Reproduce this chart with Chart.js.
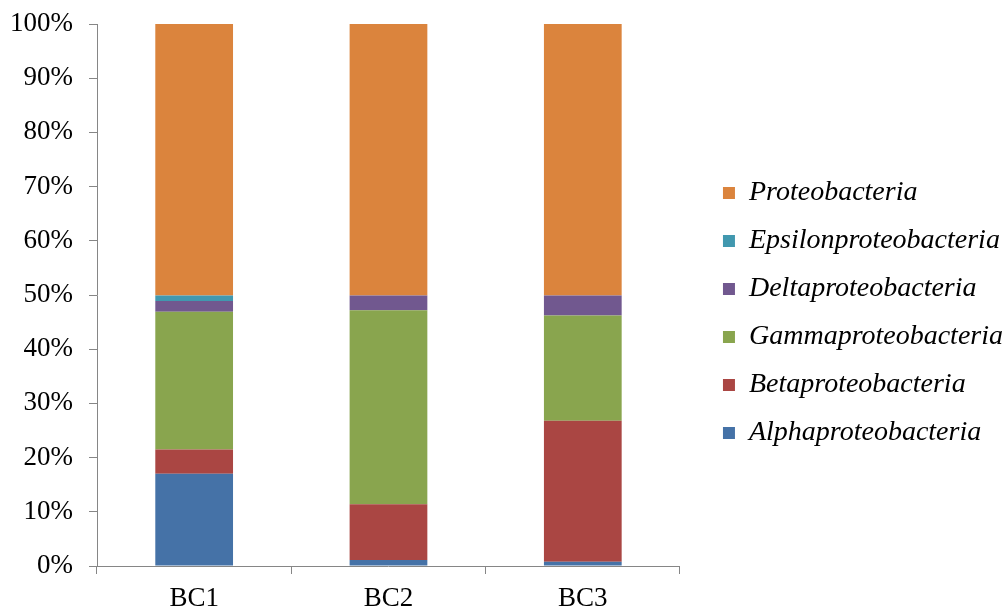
<!DOCTYPE html>
<html>
<head>
<meta charset="utf-8">
<script src="https://cdn.jsdelivr.net/npm/chart.js@4/dist/chart.umd.min.js"></script>
<style>
  html, body { margin: 0; padding: 0; background: #fff; }
  #wrap { width: 1007px; height: 610px; }
</style>
</head>
<body>
<div id="wrap"><canvas id="chart"></canvas></div>
<script>
const samples = ['BC1', 'BC2', 'BC3'];
const alpha = [17.0, 1.1, 0.8];
const beta = [4.5, 10.3, 26.0];
const gamma = [25.4, 35.8, 19.4];
const delta = [2.0, 2.7, 3.7];
const epsilon = [1.0, 0, 0];
const proteo = [50.1, 50.1, 50.1];

const axisGray = '#868686';
const serif = 'Liberation Serif, Times New Roman, serif';

const chart = new Chart(document.getElementById('chart'), {
    type: 'bar',
    data: {
        labels: samples,
        datasets: [
            { label: 'Alphaproteobacteria', data: alpha, backgroundColor: '#4572A7' },
            { label: 'Betaproteobacteria', data: beta, backgroundColor: '#AA4643' },
            { label: 'Gammaproteobacteria', data: gamma, backgroundColor: '#89A54E' },
            { label: 'Deltaproteobacteria', data: delta, backgroundColor: '#71588F' },
            { label: 'Epsilonproteobacteria', data: epsilon, backgroundColor: '#4198AF' },
            { label: 'Proteobacteria', data: proteo, backgroundColor: '#DB843D' }
        ]
    },
    options: {
        responsive: true,
        maintainAspectRatio: false,
        animation: false,
        datasets: {
            bar: {
                categoryPercentage: 1,
                barPercentage: 0.4
            }
        },
        layout: {
            padding: { top: 16, right: -6, bottom: 0, left: 0 }
        },
        plugins: {
            tooltip: { enabled: false },
            legend: {
                position: 'right',
                reverse: true,
                maxWidth: 340,
                labels: {
                    boxWidth: 12,
                    boxHeight: 12,
                    padding: 20,
                    color: '#000',
                    font: { family: serif, size: 28, style: 'italic' }
                }
            }
        },
        scales: {
            x: {
                stacked: true,
                grid: {
                    drawOnChartArea: false,
                    tickLength: 8,
                    color: axisGray
                },
                border: { color: axisGray },
                ticks: {
                    color: '#000',
                    padding: 11,
                    font: { family: serif, size: 27, lineHeight: 1 }
                },
                afterFit: s => { s.height = 44; }
            },
            y: {
                stacked: true,
                min: 0,
                max: 100,
                grid: {
                    drawOnChartArea: false,
                    tickLength: 8,
                    color: axisGray
                },
                border: { color: axisGray },
                ticks: {
                    stepSize: 10,
                    color: '#000',
                    padding: 16,
                    font: { family: serif, size: 27 },
                    callback: v => v + '%'
                },
                afterFit: s => {
                    s.width = 97;
                    s.paddingTop = 24;
                    s.paddingBottom = 0;
                }
            },
            gap: {
                position: 'right',
                grid: { display: false },
                border: { display: false },
                ticks: { display: false },
                afterFit: s => { s.width = 23; }
            }
        }
    }
});
</script>
</body>
</html>
